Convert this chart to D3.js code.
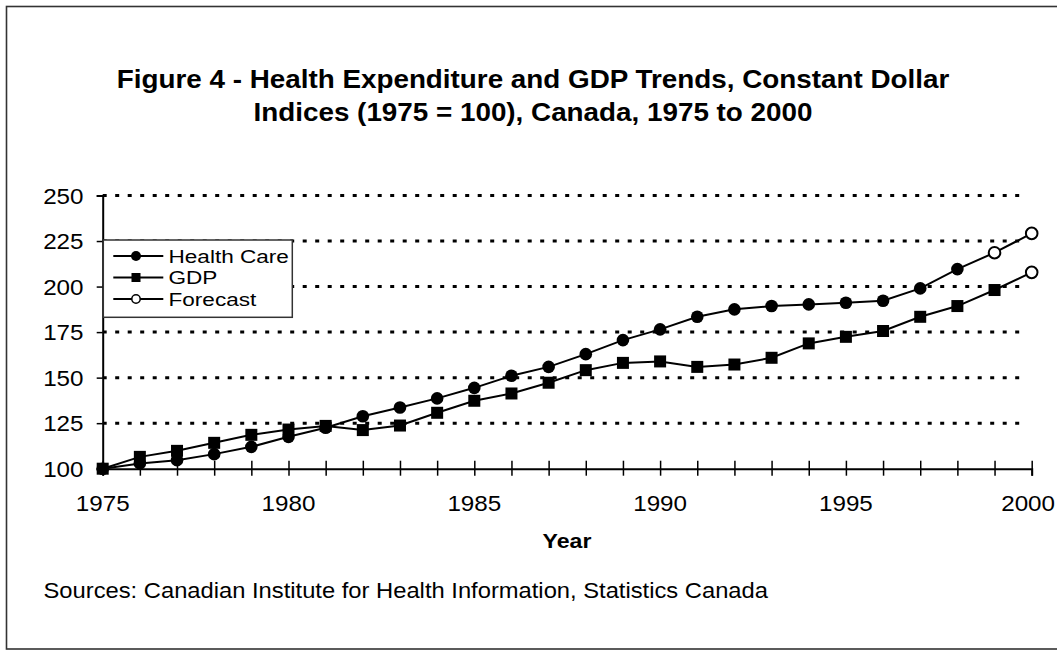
<!DOCTYPE html>
<html><head><meta charset="utf-8">
<script src="https://cdn.jsdelivr.net/npm/d3@7"></script>
<style>
html,body{margin:0;padding:0;background:#fff;overflow:hidden}
svg text{font-family:"Liberation Sans",Arial,Helvetica,sans-serif;fill:#000}
</style></head>
<body><svg id="c" width="1057" height="651"></svg>
<script>
const years = d3.range(1975, 2001);
const healthCare = [100, 102.9, 104.7, 108, 112, 117.5, 122.5, 128.8, 133.6, 138.6, 144.4, 151, 155.9, 162.9, 170.6, 176.5, 183.4, 187.5, 189.3, 190.2, 191.1, 192.2, 199, 209.6, 218.6, 229.2];
const gdp = [100, 106.5, 109.8, 114.2, 118.6, 121.5, 123.5, 121.2, 123.7, 130.7, 137.3, 141.3, 147.2, 154.1, 158.1, 158.9, 155.9, 157.2, 160.9, 168.8, 172.4, 175.6, 183.4, 189.3, 198.1, 207.8];
const healthForecastFrom = 1999;
const gdpForecastFrom = 2000;
const yTicks = [100, 125, 150, 175, 200, 225, 250];
const xLabelYears = [1975, 1980, 1985, 1990, 1995, 2000];
const titleLines = ["Figure 4 - Health Expenditure and GDP Trends, Constant Dollar", "Indices (1975 = 100), Canada, 1975 to 2000"];
const legendItems = ["Health Care", "GDP", "Forecast"];
const xTitle = "Year";
const sourceText = "Sources: Canadian Institute for Health Information, Statistics Canada";

const svg = d3.select("#c");
function txt(g, x, y, s, size, weight, anchor, sx) {
  return g.append("text").attr("transform", `translate(${x},${y}) scale(${sx || 1.1},1)`)
    .attr("font-size", size).attr("font-weight", weight || "normal")
    .attr("text-anchor", anchor || "start").text(s);
}

// outer frame
svg.append("rect").attr("x", 6.5).attr("y", 6.5).attr("width", 1100).attr("height", 642.5)
  .attr("fill", "none").attr("stroke", "#333").attr("stroke-width", 1.6);

const x = d3.scaleLinear().domain([1975, 2000]).range([102.7, 1031.7]);
const y = d3.scaleLinear().domain([100, 250]).range([468.7, 195.5]);

// title
txt(svg, 533, 88, titleLines[0], 25.3, "bold", "middle");
txt(svg, 533, 121, titleLines[1], 25.3, "bold", "middle");

// gridlines
svg.append("g").selectAll("line").data(yTicks.filter(d => d > 100)).join("line")
  .attr("x1", x(1975)).attr("x2", x(2000) - 4).attr("y1", d => y(d)).attr("y2", d => y(d))
  .attr("stroke", "#000").attr("stroke-width", 3).attr("stroke-dasharray", "4,8.5");

// y axis
const ya = svg.append("g").attr("transform", `translate(${x(1975)},0)`)
  .call(d3.axisLeft(y).tickValues(yTicks).tickSize(6).tickFormat(d3.format("d")));
ya.select(".domain").attr("stroke", "#000").attr("stroke-width", 2);
ya.selectAll(".tick line").attr("stroke", "#000").attr("stroke-width", 1.5);
ya.selectAll(".tick text").remove();
yTicks.forEach(v => txt(svg, 83.5, y(v) + 8, String(v), 22, "normal", "end"));

// x axis
const xa = svg.append("g").attr("transform", `translate(0,${y(100)})`)
  .call(d3.axisBottom(x).tickValues(years).tickSize(7).tickFormat(""));
xa.select(".domain").attr("stroke", "#000").attr("stroke-width", 2);
xa.selectAll(".tick line").attr("y1", -8).attr("y2", 7).attr("stroke", "#000").attr("stroke-width", 1.5);
xLabelYears.forEach(v => {
  const t = txt(svg, x(v), 510.5, String(v), 22, "normal", "middle");
  // keep the last label inside the picture edge
  const bb = t.node().getBoundingClientRect();
  if (bb.right > 1055) t.attr("transform", `translate(${x(v) - (bb.right - 1055)},510.5) scale(1.1,1)`);
});
txt(svg, 567, 548, xTitle, 21, "bold", "middle");
txt(svg, 43.5, 598, sourceText, 21.6, "normal", "start");

// series lines
const line = d3.line().x((d, i) => x(years[i])).y(d => y(d));
[healthCare, gdp].forEach(s => {
  svg.append("path").datum(s).attr("d", line).attr("fill", "none")
    .attr("stroke", "#000").attr("stroke-width", 2);
});
// markers
svg.append("g").selectAll("circle").data(healthCare.map((v, i) => [years[i], v]).filter(d => d[0] < healthForecastFrom)).join("circle")
  .attr("cx", d => x(d[0])).attr("cy", d => y(d[1])).attr("r", 6.3).attr("fill", "#000");
svg.append("g").selectAll("rect").data(gdp.map((v, i) => [years[i], v]).filter(d => d[0] < gdpForecastFrom)).join("rect")
  .attr("x", d => x(d[0]) - 6).attr("y", d => y(d[1]) - 6).attr("width", 12).attr("height", 12).attr("fill", "#000");
const fc = healthCare.map((v, i) => [years[i], v]).filter(d => d[0] >= healthForecastFrom)
  .concat(gdp.map((v, i) => [years[i], v]).filter(d => d[0] >= gdpForecastFrom));
svg.append("g").selectAll("circle").data(fc).join("circle")
  .attr("cx", d => x(d[0])).attr("cy", d => y(d[1])).attr("r", 5.8)
  .attr("fill", "#fff").attr("stroke", "#000").attr("stroke-width", 2);

// legend
const lg = svg.append("g");
lg.append("rect").attr("x", 103.3).attr("y", 240).attr("width", 189).attr("height", 77.3)
  .attr("fill", "#fff").attr("stroke", "#333").attr("stroke-width", 1.5);
const rowY = [256, 277.5, 299];
legendItems.forEach((name, i) => {
  const cy = rowY[i];
  lg.append("line").attr("x1", 113.3).attr("x2", 163.3).attr("y1", cy).attr("y2", cy)
    .attr("stroke", "#000").attr("stroke-width", 1.8);
  if (i === 0) lg.append("circle").attr("cx", 136).attr("cy", cy).attr("r", 5).attr("fill", "#000");
  if (i === 1) lg.append("rect").attr("x", 131.5).attr("y", cy - 4.5).attr("width", 9).attr("height", 9).attr("fill", "#000");
  if (i === 2) lg.append("circle").attr("cx", 136).attr("cy", cy).attr("r", 4.2).attr("fill", "#fff").attr("stroke", "#000").attr("stroke-width", 1.5);
  txt(lg, 168.5, cy + 6.8, name, 18.5, "normal", "start", 1.22);
});
</script></body></html>
